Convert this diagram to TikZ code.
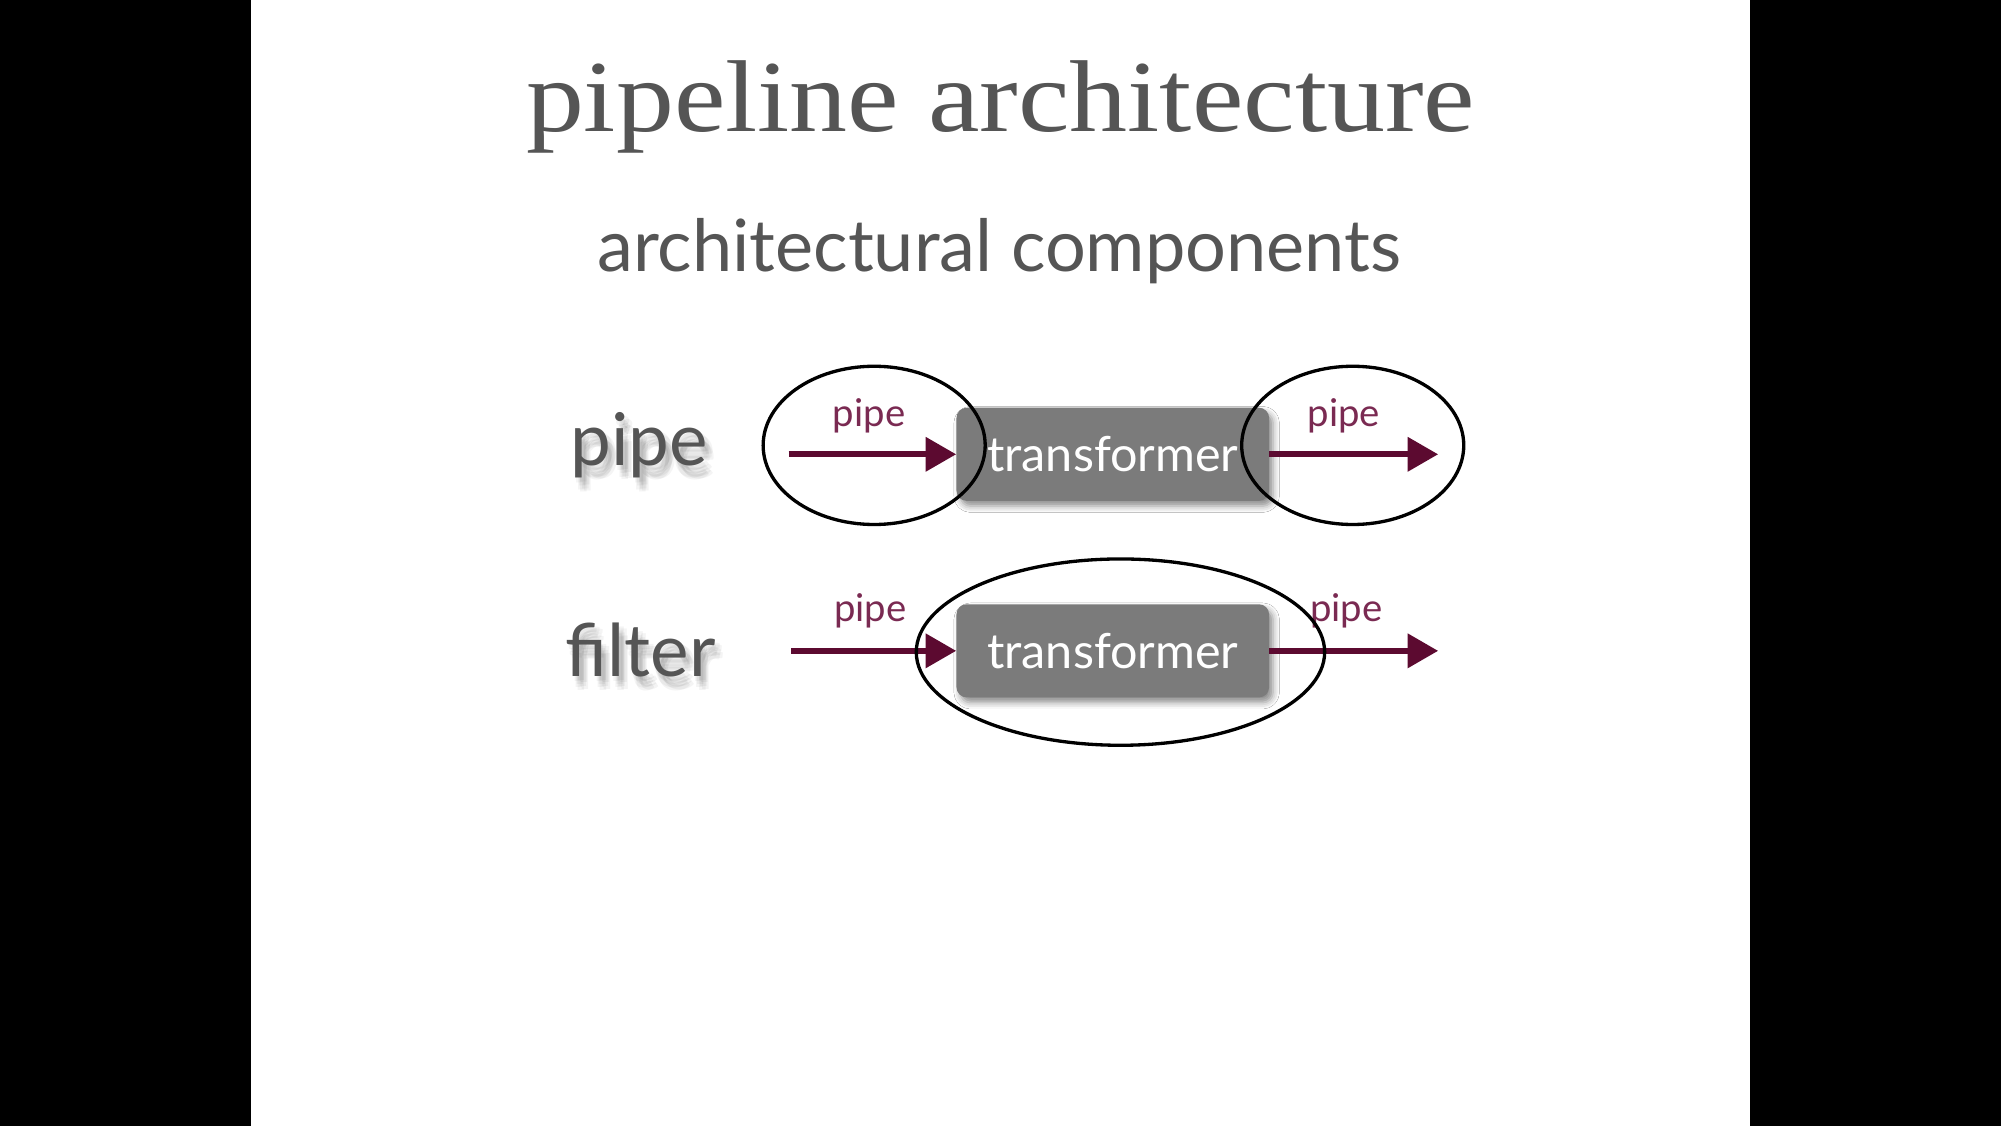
\documentclass[tikz,border=0pt]{standalone}
\usepackage{fontspec}
\setmainfont{Liberation Serif}
\newfontfamily\lato{Lato}
\usetikzlibrary{arrows.meta,shadows.blur,shapes.geometric}
\definecolor{pipecol}{HTML}{5C0A30}
\definecolor{pipelab}{HTML}{7A2A52}
\definecolor{boxgray}{HTML}{7B7B7B}
\definecolor{titlegray}{HTML}{555555}
\definecolor{labgray}{HTML}{555555}
\tikzset{
  tbox/.style={rounded corners=8pt, fill=boxgray, minimum width=245pt, minimum height=73pt,
    text=white, font=\lato\fontsize{38}{40}\selectfont, inner sep=0pt,
    blur shadow={shadow xshift=3pt, shadow yshift=-4pt, shadow blur radius=5pt, shadow opacity=45}},
  pipearrow/.style={draw=pipecol, line width=5pt, -{Triangle[length=24pt,width=26pt]}},
  plabel/.style={text=pipelab, font=\lato\fontsize{30}{32}\selectfont, anchor=base},
  hoop/.style={draw=black, ellipse, line width=2.6pt, inner sep=0pt},
  rowlab/.style={text=labgray, font=\lato\fontsize{57}{60}\selectfont, anchor=base},
  rowshadow/.style={text=black, opacity=0.045, font=\lato\fontsize{57}{60}\selectfont, anchor=base}
}
\begin{document}
\begin{tikzpicture}[x=1pt,y=-1pt]
\useasboundingbox (0,0) rectangle (1568,882);
\fill[black] (0,0) rectangle (1568,882);
\fill[white] (197,0) rectangle (1371,882);

% titles
\node[text=titlegray, font=\fontsize{80}{84}\selectfont, anchor=base, xscale=1.135] (title) at (784,103) {pipeline architecture};
\node[text=titlegray, font=\lato\fontsize{56.5}{58}\selectfont, anchor=base] (sub) at (783,213) {architectural components};

% row labels with soft shadow
\foreach \dx/\dy in {1/4,3/6,5/8,7/10,2/9,6/5,4/11,4/3} {
  \node[rowshadow] at (501+\dx,365+\dy) {pipe};
  \node[rowshadow] at (502+\dx,530+\dy) {filter};
}
\node[rowlab] (lpipe) at (501,365) {pipe};
\node[rowlab] (lfilter) at (502,530) {filter};

% row 1
\node[tbox] (t1) at (872,356) {transformer};
\coordinate (a1s) at (618,356);
\coordinate (a1e) at (1127,356);
\draw[pipearrow] (a1s) -- (t1.west);
\draw[pipearrow] (t1.east) -- (a1e);
\node[plabel] (p1) at (681,334) {pipe};
\node[plabel] (p2) at (1053,334) {pipe};
\node[hoop, minimum width=174pt, minimum height=124pt] (e1) at (685,349) {};
\node[hoop, minimum width=174pt, minimum height=124pt] (e2) at (1060,349) {};

% row 2
\node[tbox] (t2) at (872,510) {transformer};
\coordinate (a2s) at (620,510);
\coordinate (a2e) at (1127,510);
\draw[pipearrow] (a2s) -- (t2.west);
\draw[pipearrow] (t2.east) -- (a2e);
\node[plabel] (p3) at (682,487) {pipe};
\node[plabel] (p4) at (1055,487) {pipe};
\node[hoop, minimum width=320pt, minimum height=146pt] (e3) at (878,511) {};
\end{tikzpicture}
\end{document}
